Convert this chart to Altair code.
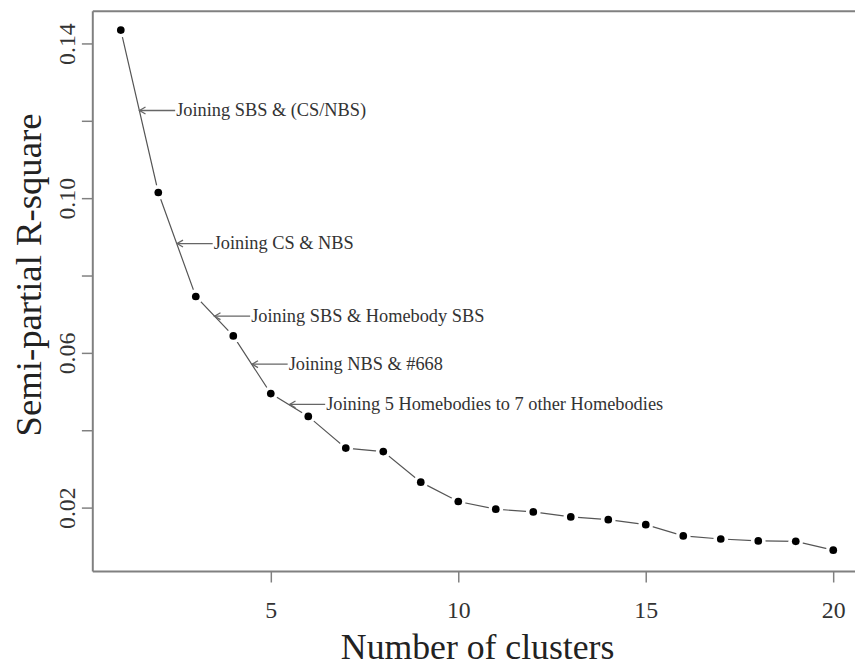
import altair as alt
import pandas as pd

# ---- data ----
clusters = list(range(1, 21))
rsq = [0.1435, 0.1015, 0.0746, 0.0644, 0.0495, 0.0436, 0.0354, 0.0345, 0.0266, 0.0216,
       0.0196, 0.0189, 0.0176, 0.0169, 0.0156, 0.0127, 0.0119, 0.0114, 0.0113, 0.0090]

ann_tip_x = [1.5, 2.5, 3.5, 4.5, 5.5]
ann_tail_x = [2.45, 3.45, 4.45, 5.45, 6.45]
ann_y = [0.1227, 0.0883, 0.0695, 0.0571, 0.0467]
ann_text = [
    "Joining SBS & (CS/NBS)",
    "Joining CS & NBS",
    "Joining SBS & Homebody SBS",
    "Joining NBS & #668",
    "Joining 5 Homebodies to 7 other Homebodies",
]

y_ticks = [0.02, 0.04, 0.06, 0.08, 0.10, 0.12, 0.14]
x_ticks = [5, 10, 15, 20]

df = pd.DataFrame({"clusters": clusters, "rsq": rsq})
ann = pd.DataFrame({"tip": ann_tip_x, "tail": ann_tail_x, "y": ann_y, "text": ann_text})

FONT = "Liberation Serif"
AXIS_GRAY = "#808080"

xs = alt.Scale(domain=[0.24, 20.58], nice=False, zero=False)
ys = alt.Scale(domain=[0.0036, 0.1485], nice=False, zero=False)

x_bottom = alt.Axis(
    orient="bottom", values=x_ticks, grid=False, format="d",
    domainColor=AXIS_GRAY, domainWidth=2, tickColor=AXIS_GRAY, tickWidth=1.5, tickSize=11,
    labelFont=FONT, labelFontSize=24, labelColor="#333", labelPadding=36,
    labelBaseline="alphabetic", labelFlush=False, labelOverlap=False,
    title="Number of clusters", titleFont=FONT, titleFontSize=36, titleFontWeight="normal",
    titleColor="#222", titleBaseline="alphabetic", titleY=88, titleX=388,
)
x_top = alt.Axis(
    orient="top", labels=False, ticks=False, grid=False, title=None,
    domainColor=AXIS_GRAY, domainWidth=2,
)
y_left = alt.Axis(
    orient="left", values=y_ticks, grid=False,
    labelExpr="round(datum.value*100) % 4 == 2 ? format(datum.value, '.2f') : ''",
    domainColor=AXIS_GRAY, domainWidth=2, tickColor=AXIS_GRAY, tickWidth=1.5, tickSize=11,
    labelFont=FONT, labelFontSize=24, labelColor="#333", labelAngle=-90,
    labelAlign="center", labelBaseline="alphabetic", labelPadding=7,
    labelFlush=False, labelOverlap=False,
    title="Semi-partial R-square", titleFont=FONT, titleFontSize=37, titleFontWeight="normal",
    titleColor="#222", titleAngle=-90, titleAlign="center", titleBaseline="alphabetic",
    titleX=-52, titleY=266,
)

base = alt.Chart(df)

line = base.mark_line(color="#555", strokeWidth=1.2).encode(
    x=alt.X("clusters:Q", scale=xs, axis=x_bottom),
    y=alt.Y("rsq:Q", scale=ys, axis=y_left),
)
halo = base.mark_circle(color="white", size=220, opacity=1).encode(
    x=alt.X("clusters:Q", scale=xs, axis=x_top),
    y=alt.Y("rsq:Q", scale=ys, axis=None),
)
pts = base.mark_circle(color="black", size=60, opacity=1).encode(
    x=alt.X("clusters:Q", scale=xs, axis=None),
    y=alt.Y("rsq:Q", scale=ys, axis=None),
)

ab = alt.Chart(ann)
arrows = ab.mark_rule(color="#666", strokeWidth=1.3).encode(
    x=alt.X("tip:Q", scale=xs, axis=None),
    x2="tail:Q",
    y=alt.Y("y:Q", scale=ys, axis=None),
)
heads = ab.mark_point(
    shape="M1,-0.58L0,0L1,0.58", filled=False, size=144, stroke="#666", strokeWidth=1.3, opacity=1
).encode(
    x=alt.X("tip:Q", scale=xs, axis=None),
    y=alt.Y("y:Q", scale=ys, axis=None),
)
labels = ab.mark_text(
    align="left", baseline="middle", dx=1, font=FONT, fontSize=18.5, color="#333"
).encode(
    x=alt.X("tail:Q", scale=xs, axis=None),
    y=alt.Y("y:Q", scale=ys, axis=None),
    text="text:N",
)

chart = alt.layer(line, halo, pts, arrows, heads, labels).resolve_axis(
    x="independent", y="independent"
).properties(
    width=769, height=565,
    padding={"left": 85, "top": 0, "right": 0, "bottom": 97},
    autosize=alt.AutoSizeParams(type="none"),
).configure_view(stroke=None)

chart.save("out.html", embed_options={"renderer": "svg", "actions": False})
